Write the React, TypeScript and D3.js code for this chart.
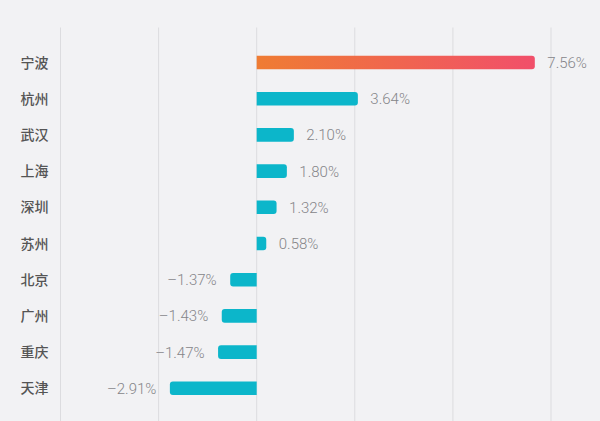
import React from "react";
import * as d3 from "d3";

const cities = ["宁波", "杭州", "武汉", "上海", "深圳", "苏州", "北京", "广州", "重庆", "天津"];
const values = [7.56, 3.64, 2.1, 1.8, 1.32, 0.58, -1.37, -1.43, -1.47, -2.91];
// bar lengths as drawn in the picture (axis units)
const barValues = [7.56, 2.75, 1.01, 0.82, 0.54, 0.26, -0.72, -0.95, -1.05, -2.36];
const gridTicks = [-16 / 3, -8 / 3, 0, 8 / 3, 16 / 3, 8];

const W = 600;
const H = 421;

export default function App() {
  const x = d3.scaleLinear().domain([-16 / 3, 8]).range([60.5, 551]);
  const y = d3.scalePoint<string>().domain(cities).range([62.5, 388.3]);
  const bh = 13.6;
  const r = 3;
  const x0 = x(0);

  const barPath = (v: number, cy: number) => {
    const xe = x(v);
    const top = cy - bh / 2;
    const bot = cy + bh / 2;
    const s = v >= 0 ? 1 : -1;
    const p = d3.path();
    p.moveTo(x0, top);
    p.lineTo(xe - s * r, top);
    p.quadraticCurveTo(xe, top, xe, top + r);
    p.lineTo(xe, bot - r);
    p.quadraticCurveTo(xe, bot, xe - s * r, bot);
    p.lineTo(x0, bot);
    p.closePath();
    return p.toString();
  };

  const fmt = (v: number) => (v < 0 ? "\u2013" : "") + Math.abs(v).toFixed(2) + "%";

  return (
    <svg
      width={W}
      height={H}
      style={{ position: "absolute", left: 0, top: 0, display: "block" }}
    >
      <defs>
        <linearGradient id="hot" x1="0" x2="1" y1="0" y2="0">
          <stop offset="0%" stopColor="#ef7c33" />
          <stop offset="100%" stopColor="#f14f6a" />
        </linearGradient>
      </defs>
      <rect x={0} y={0} width={W} height={H} fill="#f2f2f4" />
      {gridTicks.map((t, i) => (
        <line
          key={i}
          x1={x(t)}
          x2={x(t)}
          y1={27.5}
          y2={H}
          stroke="#dcdcdf"
          strokeWidth={1}
        />
      ))}
      {cities.map((c, i) => {
        const cy = y(c) as number;
        const bv = barValues[i];
        const v = values[i];
        return (
          <g key={c}>
            <text
              x={48.5}
              y={cy}
              dy="0.36em"
              textAnchor="end"
              fontSize={14}
              fontWeight={500}
              fill="#555"
              fontFamily="'Noto Sans CJK SC', sans-serif"
            >
              {c}
            </text>
            <path d={barPath(bv, cy)} fill={i === 0 ? "url(#hot)" : "#0cb6ca"} />
            <text
              x={bv >= 0 ? x(bv) + 12.5 : x(bv) - 13.5}
              y={cy}
              dy="0.36em"
              textAnchor={bv >= 0 ? "start" : "end"}
              fontSize={15}
              fontWeight={300}
              fill="#858589"
              fontFamily="Roboto, 'Liberation Sans', sans-serif"
            >
              {fmt(v)}
            </text>
          </g>
        );
      })}
    </svg>
  );
}
